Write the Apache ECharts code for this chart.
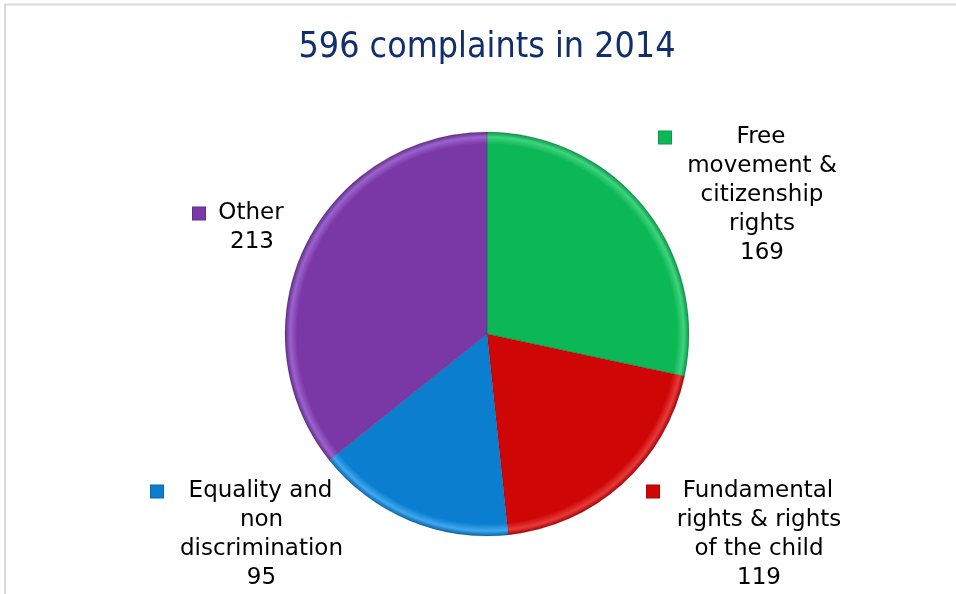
<!DOCTYPE html>
<html>
<head>
<meta charset="utf-8">
<script src="https://cdn.jsdelivr.net/npm/echarts@6/dist/echarts.min.js"></script>
<style>
  html, body { margin: 0; padding: 0; background: #fff; }
  #chart { width: 956px; height: 594px; }
</style>
</head>
<body>
<div id="chart"></div>
<script>
// data
var titleText = '596 complaints in 2014';
var categories = ['Free\nmovement &\ncitizenship\nrights', 'Fundamental\nrights & rights\nof the child', 'Equality and\nnon\ndiscrimination', 'Other'];
var values = [169, 119, 95, 213];
var colors = ['#0cb856', '#cf0606', '#0b7ecf', '#7a38a7'];
var lightColors = ['#3fd37d', '#e63a3a', '#3fa8f0', '#9a62cc'];
var darkColors = ['#09994a', '#a80303', '#0866aa', '#632d8a'];

// label boxes: [left, top, width]
var labelBoxes = [[659, 123, 206], [647, 477, 224], [151, 477, 221], [193, 199, 118]];

var cx = 487, cy = 334, r = 202;

function rimGradient(i) {
    return {
        type: 'radial', x: cx, y: cy, r: r, global: true,
        colorStops: [
            { offset: 0, color: colors[i] },
            { offset: 0.94, color: colors[i] },
            { offset: 0.975, color: lightColors[i] },
            { offset: 1, color: darkColors[i] }
        ]
    };
}

var seriesData = [];
for (var i = 0; i < values.length; i++) {
    var lines = categories[i].split('\n');
    var txt = '{ic' + i + '|}{t|' + lines[0] + '}{sp|}';
    for (var j = 1; j < lines.length; j++) txt += '\n{t|' + lines[j] + '}';
    txt += '\n{t|' + values[i] + '}';
    var rich = {
        t: { fontFamily: 'DejaVu Sans', fontSize: 23, color: '#000', lineHeight: 29, align: 'center' },
        sp: { width: 14, align: 'right', lineHeight: 29 }
    };
    rich['ic' + i] = {
        width: 12, height: 12, backgroundColor: colors[i],
        borderColor: darkColors[i], borderWidth: 1, align: 'left', lineHeight: 29
    };
    seriesData.push({
        name: categories[i],
        value: values[i],
        itemStyle: { color: rimGradient(i) },
        label: { formatter: txt, rich: rich, width: labelBoxes[i][2] }
    });
}

var myChart = echarts.init(document.getElementById('chart'));

option = {
    animation: false,
    title: {
        text: titleText,
        left: 482,
        textAlign: 'center',
        top: 25,
        textStyle: {
            fontFamily: 'DejaVu Sans Condensed',
            fontSize: 35.5,
            fontWeight: 'normal',
            color: '#112f6c'
        }
    },
    graphic: [{
        type: 'rect',
        shape: { x: 5, y: 4.5, width: 1100, height: 800 },
        style: { fill: 'none', stroke: '#d9d9d9', lineWidth: 2 },
        silent: true
    }],
    series: [{
        type: 'pie',
        center: [cx, cy],
        radius: r,
        startAngle: 90,
        clockwise: true,
        data: seriesData,
        itemStyle: { borderColor: 'rgba(0,0,0,0.18)', borderWidth: 0.8 },
        label: { show: true, position: 'outside' },
        labelLine: { show: false },
        labelLayout: function (params) {
            var b = labelBoxes[params.dataIndex];
            return { x: b[0], y: b[1], align: 'left', verticalAlign: 'top' };
        }
    }]
};

myChart.setOption(option);
</script>
</body>
</html>
